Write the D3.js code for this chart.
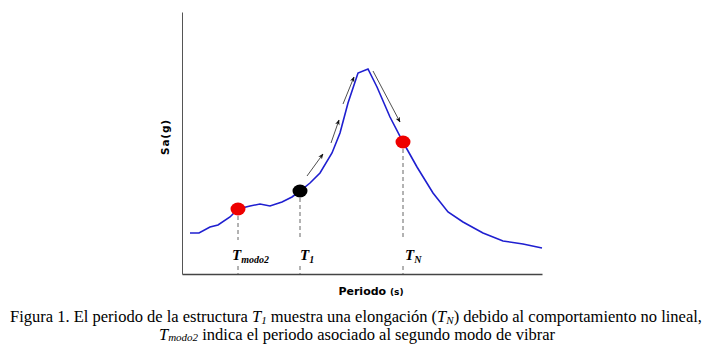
<!DOCTYPE html>
<html>
<head>
<meta charset="utf-8">
<script src="https://cdn.jsdelivr.net/npm/d3@7"></script>
<style>
  body { margin: 0; background: #fff; }
  svg { display: block; }
</style>
</head>
<body>
<div id="chart"></div>
<script>
// spectrum curve (period in s, Sa in g) - no ticks on the original, units are arbitrary
const periods = [0.08, 0.17, 0.28, 0.36, 0.48, 0.56, 0.68, 0.78, 0.88, 1.00, 1.10, 1.18, 1.28, 1.38, 1.50,
                 1.58, 1.66, 1.76, 1.86, 1.95, 2.08, 2.21, 2.35, 2.51, 2.66, 2.81, 3.01, 3.21, 3.41, 3.60];
const saValues = [0.41, 0.41, 0.47, 0.49, 0.57, 0.65, 0.68, 0.70, 0.68, 0.72, 0.77, 0.83, 0.91, 1.01, 1.21,
                  1.41, 1.71, 2.01, 2.05, 1.87, 1.57, 1.32, 1.07, 0.81, 0.62, 0.52, 0.41, 0.33, 0.30, 0.26];

// marked periods
const markNames = ["modo2", "1", "N"];
const markPeriods = [0.56, 1.18, 2.21];
const markSa = [0.65, 0.83, 1.32];
const markColors = ["#ee0000", "#000000", "#ee0000"];

// elongation arrows [period0, sa0, period1, sa1]
const arrows = [
  [1.25, 0.98, 1.41, 1.20],
  [1.49, 1.31, 1.57, 1.54],
  [1.61, 1.70, 1.72, 1.97],
  [1.91, 2.03, 2.18, 1.52]
];

const W = 714, H = 355;
const margin = { top: 12, right: 172, bottom: 81, left: 182 };
const width = W - margin.left - margin.right,
      height = H - margin.top - margin.bottom;

const svg = d3.select("#chart").append("svg")
    .attr("width", W)
    .attr("height", H);

const x = d3.scaleLinear().domain([0, 3.6]).range([margin.left, margin.left + width]);
const y = d3.scaleLinear().domain([0, 2.62]).range([margin.top + height, margin.top]);

svg.append("defs").append("marker")
    .attr("id", "head")
    .attr("viewBox", "0 0 10 10")
    .attr("refX", 9).attr("refY", 5)
    .attr("markerWidth", 7).attr("markerHeight", 7)
    .attr("orient", "auto")
  .append("path")
    .attr("d", "M0,1 L10,5 L0,9 L3,5 Z")
    .attr("fill", "#111");

// axes, plain lines with no ticks
svg.append("g")
    .attr("transform", `translate(0,${y(0)})`)
    .call(d3.axisBottom(x).ticks(0).tickSize(0))
    .call(g => g.select(".domain").attr("stroke", "#444").attr("stroke-width", 1.3));
svg.append("g")
    .attr("transform", `translate(${x(0)},0)`)
    .call(d3.axisLeft(y).ticks(0).tickSize(0))
    .call(g => g.select(".domain").attr("stroke", "#555").attr("stroke-width", 1));

// dashed guides, broken around the labels
const labelBase = 260;
markPeriods.forEach((p, i) => {
  svg.append("line")
      .attr("x1", x(p)).attr("x2", x(p))
      .attr("y1", y(markSa[i])).attr("y2", 240)
      .attr("stroke", "#666").attr("stroke-dasharray", "4,3");
  svg.append("line")
      .attr("x1", x(p)).attr("x2", x(p))
      .attr("y1", 266).attr("y2", y(0))
      .attr("stroke", "#666").attr("stroke-dasharray", "4,3");
});

// curve
const line = d3.line()
    .x(d => x(d[0]))
    .y(d => y(d[1]));
svg.append("path")
    .datum(periods.map((p, i) => [p, saValues[i]]))
    .attr("d", line)
    .attr("fill", "none")
    .attr("stroke", "#1f1fd0")
    .attr("stroke-width", 1.6);

// arrows
svg.selectAll("line.arrow")
  .data(arrows)
  .enter().append("line")
    .attr("class", "arrow")
    .attr("x1", d => x(d[0])).attr("y1", d => y(d[1]))
    .attr("x2", d => x(d[2])).attr("y2", d => y(d[3]))
    .attr("stroke", "#222").attr("stroke-width", 0.8)
    .attr("marker-end", "url(#head)");

// dots
svg.selectAll("ellipse")
  .data(markPeriods)
  .enter().append("ellipse")
    .attr("cx", d => x(d))
    .attr("cy", (d, i) => y(markSa[i]))
    .attr("rx", 7.5).attr("ry", 6.5)
    .attr("fill", (d, i) => markColors[i]);

// T labels
const tl = svg.selectAll("text.tlab")
  .data(markPeriods)
  .enter().append("text")
    .attr("class", "tlab")
    .attr("x", (d, i) => x(d) - (i === 0 ? 6 : 0) + (i === 2 ? 2 : 0))
    .attr("y", labelBase)
    .attr("font-family", "Liberation Serif, serif")
    .attr("font-style", "italic")
    .attr("font-weight", "bold")
    .attr("font-size", 15);
tl.append("tspan").text("T");
tl.append("tspan")
    .attr("dy", 3)
    .attr("font-size", 10)
    .text((d, i) => markNames[i]);

// axis titles
svg.append("text")
    .attr("transform", `translate(169,137) rotate(-90)`)
    .attr("text-anchor", "middle")
    .attr("font-family", "DejaVu Sans, sans-serif")
    .attr("font-weight", "bold")
    .attr("font-size", 10.5)
    .attr("letter-spacing", 0.8)
    .text("Sa(g)");

const xt = svg.append("text")
    .attr("x", 371).attr("y", 295)
    .attr("text-anchor", "middle")
    .attr("font-family", "DejaVu Sans, sans-serif")
    .attr("font-weight", "bold")
    .attr("font-size", 11);
xt.append("tspan").text("Periodo ");
xt.append("tspan").attr("font-size", 9).text("(s)");

// caption
const cap = svg.append("g")
    .attr("font-family", "Liberation Serif, 'Times New Roman', serif")
    .attr("font-size", 16.5)
    .attr("fill", "#000");
const c1 = cap.append("text").attr("x", 356).attr("y", 322).attr("text-anchor", "middle");
c1.append("tspan").text("Figura 1. El periodo de la estructura ");
c1.append("tspan").attr("font-style", "italic").text("T");
c1.append("tspan").attr("font-style", "italic").attr("font-size", 11).attr("dy", 1.5).text("1");
c1.append("tspan").attr("dy", -1.5).text(" muestra una elongación (");
c1.append("tspan").attr("font-style", "italic").text("T");
c1.append("tspan").attr("font-style", "italic").attr("font-size", 11).attr("dy", 1.5).text("N");
c1.append("tspan").attr("dy", -1.5).text(") debido al comportamiento no lineal,");

const c2 = cap.append("text").attr("x", 357).attr("y", 339.5).attr("text-anchor", "middle");
c2.append("tspan").attr("font-style", "italic").text("T");
c2.append("tspan").attr("font-style", "italic").attr("font-size", 11).attr("dy", 1.5).text("modo2");
c2.append("tspan").attr("dy", -1.5).text(" indica el periodo asociado al segundo modo de vibrar");
</script>
</body>
</html>
